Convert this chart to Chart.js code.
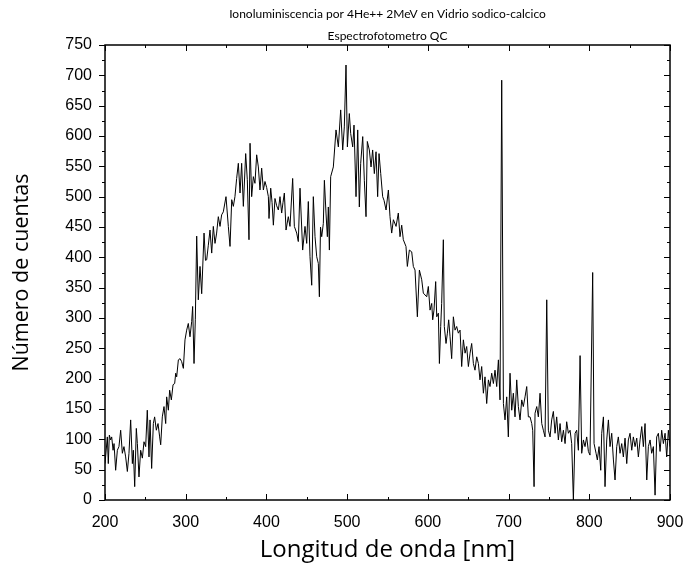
<!DOCTYPE html>
<html>
<head>
<meta charset="utf-8">
<script src="https://cdn.jsdelivr.net/npm/chart.js@4/dist/chart.umd.min.js"></script>
<style>
  body { margin: 0; background: #fff; }
  canvas { display: block; }
</style>
</head>
<body>
<canvas id="myChart" width="686" height="573"></canvas>
<script>
// wavelength (nm) and counts
const wavelengths = [
  200, 202.9, 204.1, 205.4, 207, 208.3, 210, 211.2, 213.2, 215.3, 217.3, 219.4, 221.5, 223.5, 225.6, 227.7, 229.7,
  231.8, 233.9, 235.1, 236.8, 238.8, 240.1, 242.1, 244.2, 246.3, 248.3, 250.4, 252.4, 254.5, 255.8, 257.8, 259.9,
  261.5, 263.6, 265.7, 267.7, 269, 271, 273.1, 275.2, 276.4, 278.5, 280.1, 282.2, 284.3, 286.3, 287.6, 288.8,
  290.9, 293, 295, 297.1, 299.1, 301.2, 303.2, 305.3, 307.4, 308.6, 310.3, 311.9, 313.6, 315.6, 317.7, 319.8,
  322.7, 324.5, 326, 328, 330.1, 332.2, 334.2, 336.3, 338.3, 340.4, 342.5, 344.5, 346.6, 349.9, 352.8, 354.9,
  357, 359, 361, 363.1, 365.2, 367.3, 369.3, 371.4, 374.3, 376.3, 378.4, 379.7, 381.7, 383.8, 385.8, 387.9,
  390, 392, 394.1, 396.2, 398.2, 400.3, 402.4, 403.2, 405.3, 407, 408.6, 410.6, 412.7, 414.8, 416.8, 418.9,
  420.5, 422.2, 424.3, 427.1, 429.2, 432.5, 434.6, 437.5, 439.5, 441.6, 444.9, 447.8, 449.9, 451.9, 454, 456.1,
  458.1, 460.2, 462.3, 464.3, 465.6, 467, 468.5, 470.5, 471.8, 473.8, 475.5, 476.7, 478, 479.6, 482.9, 486.2,
  489.1, 492, 494.5, 496.5, 498.6, 500.3, 502.7, 504.4, 506.9, 508.5, 511, 513.1, 515.1, 516.8, 519.3, 521.3,
  523.4, 525, 527.5, 529.6, 531.6, 533.7, 535.8, 537.8, 539.5, 541.6, 544, 545.7, 548.2, 551.1, 553.1, 555.2,
  557.3, 560.6, 563.4, 565.5, 567.6, 569.6, 572.9, 574.6, 577.1, 580, 582, 584.1, 587, 589.5, 592.4, 594.4,
  598.6, 600.6, 602.7, 604.8, 606, 607.6, 609.7, 611, 613, 614.3, 615.9, 617.1, 619.2, 620.4, 622.5, 624.2,
  625.8, 627.5, 629.5, 631.6, 633.7, 635.7, 637.8, 639.9, 641.9, 644, 646.1, 648.1, 650.2, 652.3, 654.3, 656.4,
  658.4, 660.5, 662.6, 664.6, 666.7, 668.8, 670.8, 672.9, 675, 677, 679.1, 681.2, 683.2, 685.3, 687.4, 689.4,
  691.5, 693.6, 695.6, 697.7, 699.7, 701.8, 703.9, 705.9, 708, 710.1, 712.1, 714.2, 716.3, 718.3, 720.4, 722.5,
  724.5, 726.6, 728.7, 729.9, 731.6, 732.8, 734.9, 736.9, 739, 741.1, 743.1, 745.2, 747.3, 749.3, 751.4, 753.4,
  755.5, 757.6, 759.6, 761.7, 763.8, 765.8, 767.9, 770, 772, 774.1, 776.2, 778.2, 780.3, 782.4, 784.4, 786.5,
  788.6, 790.6, 792.7, 794.7, 796.8, 798.9, 800.9, 804.2, 805.9, 808.4, 810, 812.1, 814.2, 815.4, 817.5, 819.5,
  821.6, 823.7, 825.7, 827.8, 829.9, 831.9, 834, 836, 838.1, 840.2, 842.2, 844.3, 846.4, 848.4, 850.5, 852.6,
  854.6, 856.7, 858.8, 860.8, 862.9, 865, 867, 869.1, 871.2, 873.2, 875.3, 877.3, 879.4, 881.5, 883.5, 885.6,
  887.7, 889.7, 891.8, 893.9, 895.9, 898, 900
];

const counts = [
  60, 104, 60, 107, 99, 104, 82, 93, 49, 82, 88, 115, 77, 88, 71, 47, 77,
  132, 60, 82, 22, 118, 93, 38, 82, 69, 96, 88, 148, 71, 132, 52, 126,
  137, 115, 126, 104, 91, 137, 154, 126, 170, 148, 181, 165, 190, 192, 209, 203,
  231, 233, 228, 217, 264, 280, 291, 269, 294, 319, 225, 297, 435, 330, 385, 340,
  440, 395, 396, 420, 445, 407, 451, 423, 440, 467, 451, 470, 475, 500, 451, 418,
  495, 484, 500, 530, 555, 506, 555, 484, 571, 528, 429, 588, 500, 533, 522, 569,
  549, 511, 547, 511, 525, 515, 500, 464, 514, 490, 453, 497, 485, 478, 500, 473,
  490, 506, 445, 467, 451, 530, 451, 440, 426, 514, 412, 451, 423, 492, 401, 354,
  500, 434, 401, 390, 335, 450, 434, 456, 527, 473, 434, 483, 412, 533, 549, 610,
  582, 643, 577, 615, 717, 582, 637, 604, 582, 618, 500, 610, 483, 555, 599, 527,
  467, 591, 577, 549, 577, 538, 574, 500, 571, 538, 500, 494, 478, 511, 467, 440,
  462, 451, 473, 434, 453, 429, 418, 385, 412, 409, 385, 379, 302, 379, 363, 341,
  335, 352, 313, 324, 297, 313, 360, 302, 308, 225, 286, 324, 429, 286, 258, 275,
  297, 269, 233, 302, 280, 286, 275, 280, 220, 264, 242, 253, 220, 242, 258, 225,
  214, 236, 225, 198, 220, 176, 203, 159, 198, 187, 209, 192, 214, 187, 231, 165,
  692, 159, 132, 170, 104, 209, 148, 176, 137, 198, 154, 132, 165, 154, 170, 187,
  137, 137, 126, 115, 22, 143, 154, 137, 176, 126, 115, 104, 330, 115, 104, 132,
  146, 110, 137, 99, 126, 96, 115, 93, 129, 110, 115, 93, 0, 110, 115, 82,
  238, 77, 99, 88, 104, 80, 74, 375, 93, 77, 66, 88, 49, 110, 137, 22,
  99, 132, 88, 110, 66, 33, 88, 104, 77, 93, 71, 102, 60, 99, 110, 82,
  104, 88, 102, 71, 99, 121, 88, 126, 33, 88, 99, 77, 88, 8, 104, 110,
  80, 115, 93, 110, 71, 115, 88
];

const xRange = [200, 900];
const yRange = [0, 750];
const xStep = 100;
const yStep = 50;

const titleLines = ["Ionoluminiscencia por 4He++ 2MeV en Vidrio sodico-calcico", "Espectrofotometro QC"];
const xTitle = "Longitud de onda [nm]";
const yTitle = "Número de cuentas";

// box around the plot plus major/minor tick marks like the Origin original
const frameTicks = {
  id: "frameTicks",
  afterDatasetsDraw(chart) {
    const { ctx, chartArea: a, scales } = chart;
    const x = scales.x, y = scales.y;
    ctx.save();
    ctx.strokeStyle = "#000";
    ctx.lineWidth = 1;
    ctx.beginPath();

    const xv = x.ticks.map((t) => t.value);
    for (let i = 0; i < xv.length; i++) {
      const px = Math.round(x.getPixelForValue(xv[i])) + 0.5;
      ctx.moveTo(px, a.bottom); ctx.lineTo(px, a.bottom - 6);
      ctx.moveTo(px, a.top); ctx.lineTo(px, a.top + 6);
      if (i < xv.length - 1) {
        const pm = Math.round(x.getPixelForValue((xv[i] + xv[i + 1]) / 2)) + 0.5;
        ctx.moveTo(pm, a.bottom); ctx.lineTo(pm, a.bottom - 3);
        ctx.moveTo(pm, a.top); ctx.lineTo(pm, a.top + 3);
      }
    }
    const yv = y.ticks.map((t) => t.value);
    for (let i = 0; i < yv.length; i++) {
      const py = Math.round(y.getPixelForValue(yv[i])) + 0.5;
      ctx.moveTo(a.left, py); ctx.lineTo(a.left - 6, py);
      ctx.moveTo(a.right, py); ctx.lineTo(a.right - 6, py);
      if (i < yv.length - 1) {
        const pm = Math.round(y.getPixelForValue((yv[i] + yv[i + 1]) / 2)) + 0.5;
        ctx.moveTo(a.left, pm); ctx.lineTo(a.left - 3, pm);
        ctx.moveTo(a.right, pm); ctx.lineTo(a.right - 3, pm);
      }
    }
    ctx.stroke();

    ctx.lineWidth = 1.5;
    ctx.strokeRect(a.left, a.top, a.right - a.left, a.bottom - a.top);
    ctx.restore();
  },
};

const data = {
  datasets: [
    {
      data: wavelengths.map((w, i) => ({ x: w, y: counts[i] })),
      showLine: true,
      borderColor: "#000",
      borderWidth: 1,
      pointRadius: 0,
      tension: 0,
    },
  ],
};

const tickFont = { family: "'Liberation Sans', Arial, sans-serif", size: 16 };

const config = {
  type: "scatter",
  data: data,
  options: {
    responsive: false,
    animation: false,
    layout: { padding: { top: 0, left: 0, right: 16, bottom: 0 } },
    plugins: {
      legend: { display: false },
      tooltip: { enabled: false },
      title: {
        display: true,
        fullSize: false,
        text: titleLines,
        color: "#000",
        font: { family: "Lato", size: 12, weight: "normal", lineHeight: "22px" },
        padding: { top: 3, bottom: -2 },
      },
    },
    scales: {
      x: {
        type: "linear",
        min: xRange[0],
        max: xRange[1],
        afterFit: (s) => {
          s.height = 73;
          s.paddingLeft = 0;
          s.paddingRight = 0;
        },
        ticks: { stepSize: xStep, color: "#000", font: tickFont, padding: 13, maxRotation: 0 },
        grid: { display: true, drawOnChartArea: false, drawTicks: false },
        border: { display: false },
        title: {
          display: true,
          text: xTitle,
          color: "#000",
          font: { family: "'Open Sans'", size: 24 },
          padding: { top: 0, bottom: 8 },
        },
      },
      y: {
        type: "linear",
        min: yRange[0],
        max: yRange[1],
        afterFit: (s) => { s.width = 105; },
        ticks: { stepSize: yStep, color: "#000", font: tickFont, padding: 13 },
        grid: { display: true, drawOnChartArea: false, drawTicks: false },
        border: { display: false },
        title: {
          display: true,
          text: yTitle,
          color: "#000",
          font: { family: "'Open Sans'", size: 21.5 },
          padding: { top: 9, bottom: 0 },
        },
      },
    },
  },
  plugins: [frameTicks],
};

const myChart = new Chart(document.getElementById("myChart"), config);
</script>
</body>
</html>
